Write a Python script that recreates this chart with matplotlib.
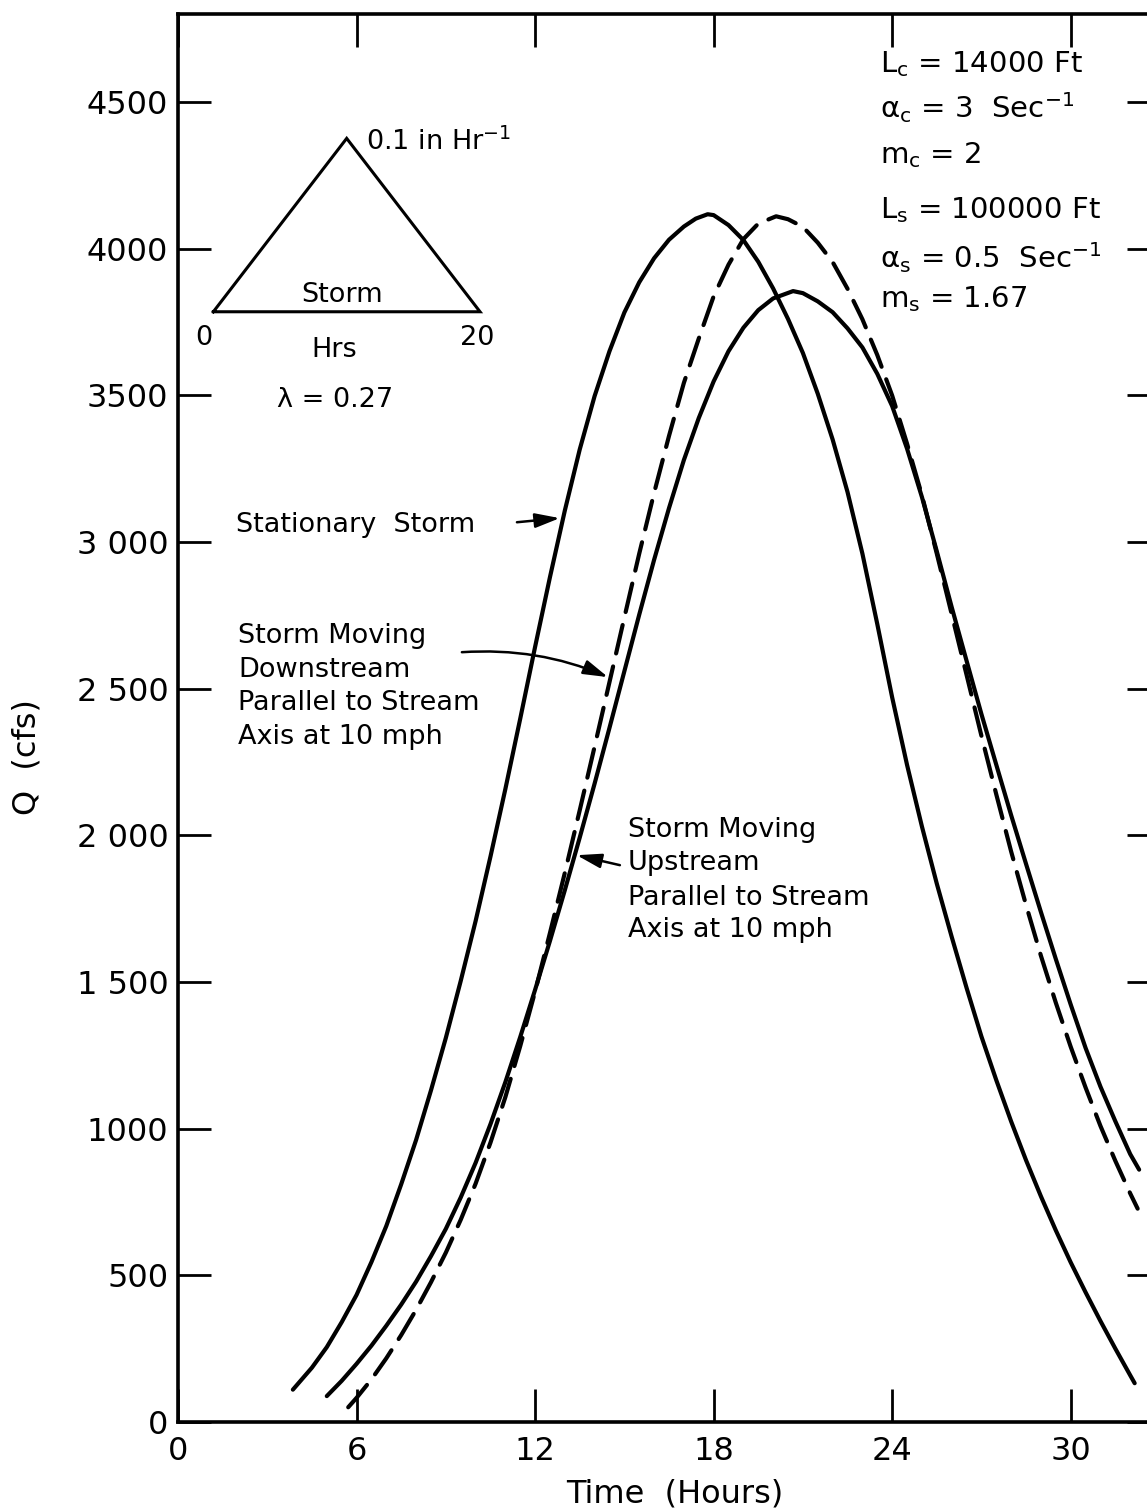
import matplotlib.pyplot as plt

plt.rcParams['font.family'] = 'DejaVu Sans'
plt.rcParams['mathtext.default'] = 'regular'

# stationary storm hydrograph (hours, cfs)
t_stat = [3.86, 4.5, 5.0, 5.5, 6.0, 6.5, 7.0, 7.5, 8.0, 8.5, 9.0, 9.5, 10.0, 10.5, 11.0,
          11.5, 12.0, 12.5, 13.0, 13.5, 14.0, 14.5, 15.0, 15.5, 16.0, 16.5, 17.0, 17.4,
          17.8, 18.0, 18.5, 19.0, 19.5, 20.0, 20.5, 21.0, 21.5, 22.0, 22.5, 23.0, 23.5,
          24.0, 24.5, 25.0, 25.5, 26.0, 26.5, 27.0, 27.5, 28.0, 28.5, 29.0, 29.5, 30.0,
          30.5, 31.0, 31.5, 32.0, 32.15]
q_stat = [110, 185, 255, 340, 433, 545, 668, 810, 961, 1130, 1309, 1503, 1707, 1927, 2157,
          2397, 2642, 2880, 3107, 3315, 3497, 3650, 3782, 3885, 3967, 4030, 4075, 4102,
          4117, 4114, 4080, 4029, 3955, 3864, 3760, 3644, 3505, 3349, 3170, 2960, 2720,
          2470, 2240, 2030, 1835, 1654, 1480, 1314, 1165, 1024, 892, 769, 653, 544,
          442, 344, 250, 159, 132]

# storm moving upstream
t_up = [5.0, 5.5, 6.0, 6.5, 7.0, 7.5, 8.0, 8.5, 9.0, 9.5, 10.0, 10.5, 11.0, 11.5, 12.0,
        12.5, 13.0, 13.5, 14.0, 14.5, 15.0, 15.5, 16.0, 16.5, 17.0, 17.5, 18.0, 18.5,
        19.0, 19.5, 20.0, 20.67, 21.0, 21.5, 22.0, 22.5, 23.0, 23.5, 24.0, 24.5, 25.0,
        25.5, 26.0, 26.5, 27.0, 27.5, 28.0, 28.5, 29.0, 29.5, 30.0, 30.5, 31.0, 31.5,
        32.0, 32.3]
q_up = [88, 140, 198, 260, 328, 400, 478, 565, 658, 765, 883, 1015, 1158, 1312, 1473,
        1640, 1813, 1992, 2176, 2366, 2559, 2752, 2939, 3115, 3279, 3422, 3547, 3650,
        3730, 3790, 3830, 3855, 3848, 3820, 3783, 3728, 3663, 3573, 3463, 3318, 3153,
        2968, 2778, 2595, 2413, 2240, 2068, 1902, 1738, 1578, 1423, 1275, 1143, 1025,
        913, 860]

# storm moving downstream
t_down = [5.72, 6.0, 6.5, 7.0, 7.5, 8.0, 8.5, 9.0, 9.5, 10.0, 10.5, 11.0, 11.5, 12.0,
          12.5, 13.0, 13.5, 14.0, 14.5, 15.0, 15.5, 16.0, 16.5, 17.0, 17.5, 18.0, 18.5,
          19.0, 19.5, 20.1, 20.5, 21.0, 21.5, 22.0, 22.5, 23.0, 23.5, 24.0, 24.5, 25.0,
          25.5, 26.0, 26.5, 27.0, 27.5, 28.0, 28.5, 29.0, 29.5, 30.0, 30.5, 31.0, 31.5,
          32.0, 32.25]
q_down = [50, 82, 145, 217, 296, 382, 476, 577, 689, 812, 952, 1107, 1281, 1467,
          1667, 1872, 2085, 2302, 2522, 2742, 2960, 3167, 3361, 3542, 3693, 3837, 3945,
          4032, 4085, 4110, 4100, 4074, 4020, 3954, 3863, 3759, 3637, 3499, 3335, 3159,
          2960, 2754, 2547, 2339, 2139, 1944, 1762, 1589, 1429, 1279, 1140, 1009, 890,
          779, 727]

# triangular storm (hours, in/hr)
storm_t = [0, 10, 20, 0]
storm_i = [0, 0.1, 0, 0]

x_ticks = [0, 6, 12, 18, 24, 30]
y_ticks = [0, 500, 1000, 1500, 2000, 2500, 3000, 3500, 4000, 4500]
y_tick_labels = ['0', '500', '1000', '1 500', '2 000', '2 500', '3 000', '3500', '4000', '4500']

params = ['L$_c$ = 14000 Ft', 'α$_c$ = 3  Sec$^{-1}$', 'm$_c$ = 2',
          'L$_s$ = 100000 Ft', 'α$_s$ = 0.5  Sec$^{-1}$', 'm$_s$ = 1.67']
param_q = [4601, 4444, 4290, 4103, 3933, 3800]

down_lines = ['Storm Moving', 'Downstream', 'Parallel to Stream', 'Axis at 10 mph']
down_q = [2655, 2539, 2426, 2310]
up_lines = ['Storm Moving', 'Upstream', 'Parallel to Stream', 'Axis at 10 mph']
up_q = [1995, 1881, 1762, 1654]

fig = plt.figure(figsize=(11.47, 15.09), dpi=100)
ax = fig.add_axes([0.1552, 0.0577, 0.8561, 0.9331])

ax.plot(t_stat, q_stat, color='k', lw=3, solid_capstyle='round', solid_joinstyle='round')
ax.plot(t_up, q_up, color='k', lw=3, solid_capstyle='round', solid_joinstyle='round')
ax.plot(t_down, q_down, color='k', lw=3, linestyle=(0, (7, 3.2)), dash_capstyle='round')

ax.set_xlim(0, 33)
ax.set_ylim(0, 4800)
ax.set_xticks(x_ticks)
ax.set_yticks(y_ticks)
ax.set_yticklabels(y_tick_labels)
ax.tick_params(direction='in', length=24, width=2, top=True, right=True, labelsize=23)
ax.tick_params(axis='x', pad=10)
ax.tick_params(axis='y', pad=7)
for sp in ax.spines.values():
    sp.set_linewidth(2.6)

ax.set_xlabel('Time  (Hours)', fontsize=23)
ax.xaxis.set_label_coords(0.506, -0.040)
ax.set_ylabel('Q  (cfs)', fontsize=23)
ax.yaxis.set_label_coords(-0.1385, 0.4723)

# parameter block
for txt, q in zip(params, param_q):
    ax.text(23.58, q, txt, fontsize=21, ha='left', va='baseline')

arrow = dict(arrowstyle='-|>,head_length=0.75,head_width=0.22', color='k', lw=1.8,
             shrinkA=0, shrinkB=0, mutation_scale=20)

ax.text(1.95, 3034, 'Stationary  Storm', fontsize=19.5, ha='left', va='baseline')
ax.annotate('', xy=(12.83, 3081), xytext=(11.39, 3067), arrowprops=arrow)

for txt, q in zip(down_lines, down_q):
    ax.text(2.02, q, txt, fontsize=19.5, ha='left', va='baseline')
ax.annotate('', xy=(14.45, 2539), xytext=(9.54, 2624),
            arrowprops=dict(arrow, connectionstyle='arc3,rad=-0.12'))

for txt, q in zip(up_lines, up_q):
    ax.text(15.12, q, txt, fontsize=19.5, ha='left', va='baseline')
ax.annotate('', xy=(13.4, 1932), xytext=(14.85, 1898), arrowprops=arrow)

ax.text(3.32, 3460, 'λ = 0.27', fontsize=19.5, ha='left', va='baseline')

# storm inset
ax_in = fig.add_axes([0.186, 0.7934, 0.2325, 0.1149])
ax_in.plot(storm_t, storm_i, color='k', lw=2.2, clip_on=False, solid_joinstyle='miter')
ax_in.set_xlim(0, 20)
ax_in.set_ylim(0, 0.1)
ax_in.axis('off')
kw = dict(textcoords='offset pixels', fontsize=19.5, va='baseline')
ax_in.annotate('0', xy=(0, 0), xytext=(-10, -33), ha='center', **kw)
ax_in.annotate('20', xy=(20, 0), xytext=(-3, -33), ha='center', **kw)
ax_in.annotate('Hrs', xy=(10, 0), xytext=(-12, -45), ha='center', **kw)
ax_in.annotate('Storm', xy=(10, 0), xytext=(-5, 10), ha='center', **kw)
ax_in.annotate('0.1 in Hr$^{-1}$', xy=(10, 0.1), xytext=(19, -12), ha='left', **kw)

fig.savefig('out.png', dpi=100)
